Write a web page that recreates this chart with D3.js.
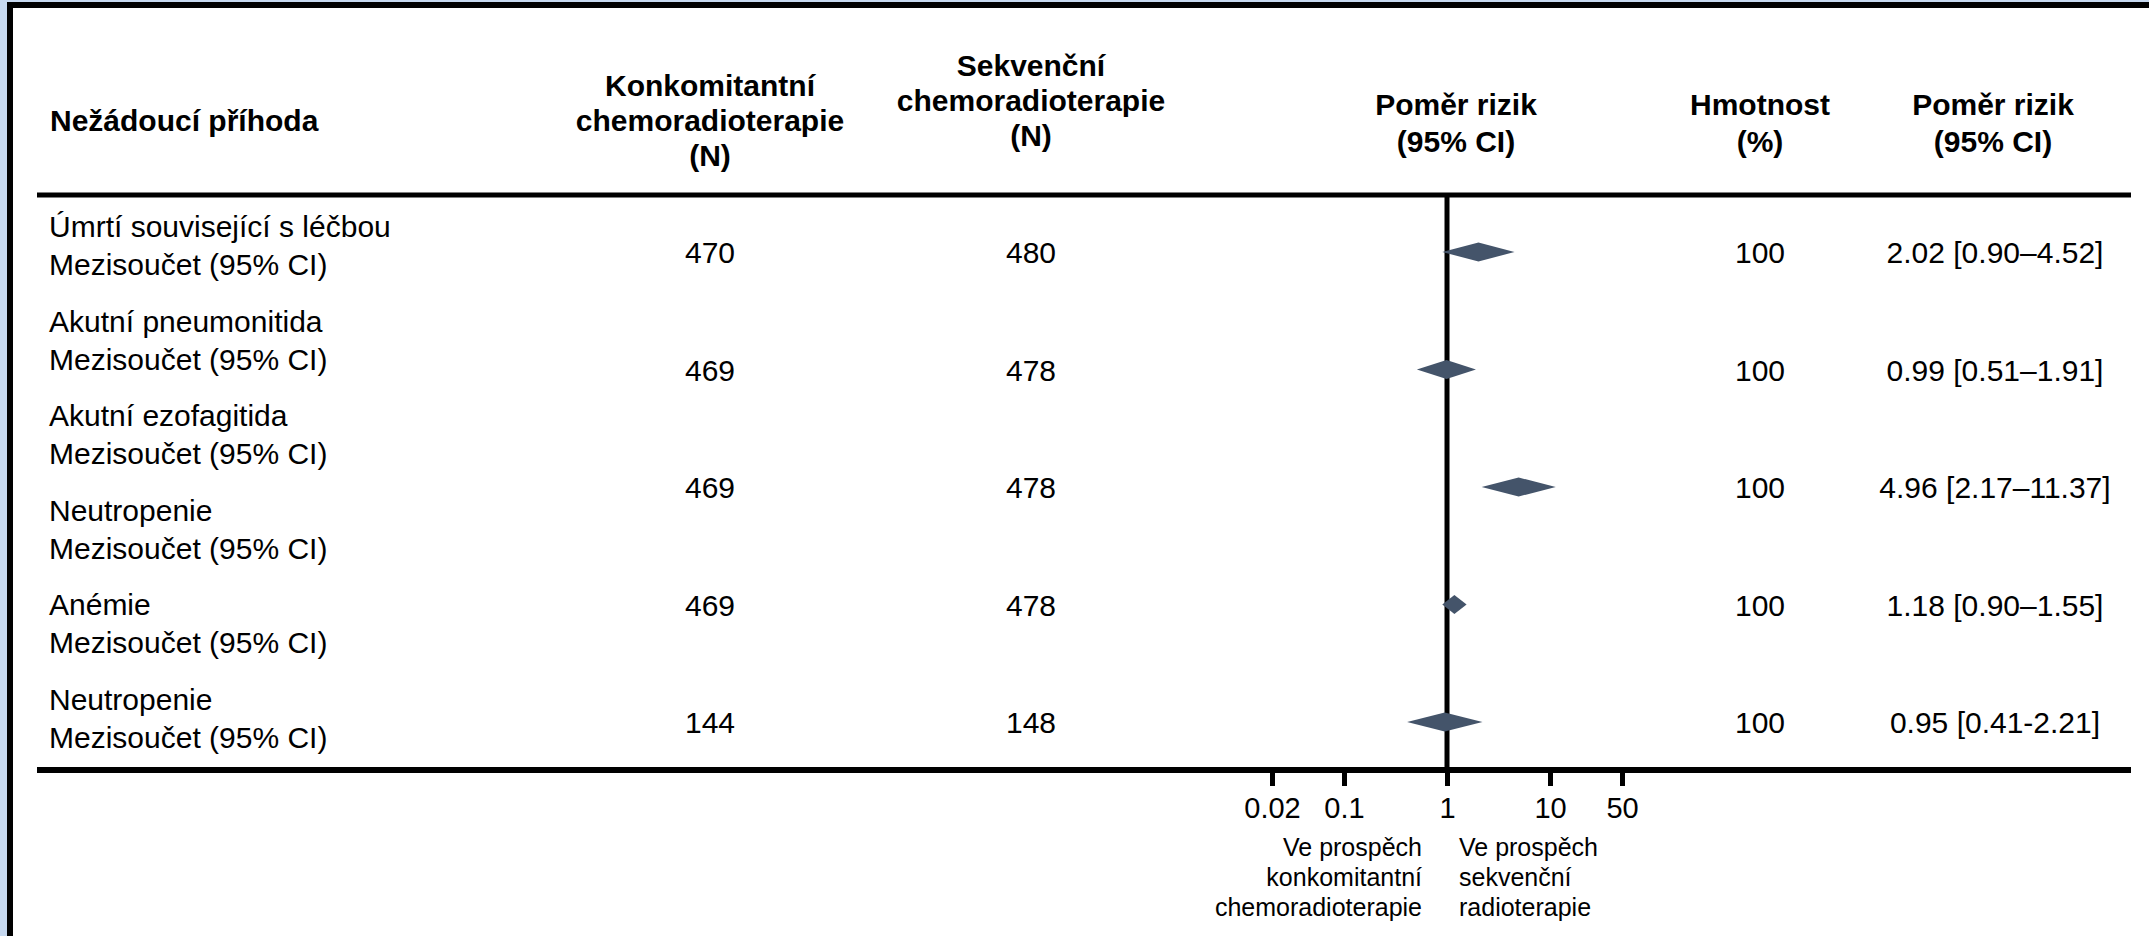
<!DOCTYPE html>
<html>
<head>
<meta charset="utf-8">
<script src="https://cdn.jsdelivr.net/npm/d3@7"></script>
<style>
  body { margin: 0; background: #fff; }
  svg { display: block; }
  text { font-family: "Liberation Sans", Arial, Helvetica, sans-serif; fill: #000; }
</style>
</head>
<body>
<svg id="chart" width="2149" height="936"></svg>
<script>
// ---- data ----
const columnTitles = [
  ["Nežádoucí příhoda"],
  ["Konkomitantní", "chemoradioterapie", "(N)"],
  ["Sekvenční", "chemoradioterapie", "(N)"],
  ["Poměr rizik", "(95% CI)"],
  ["Hmotnost", "(%)"],
  ["Poměr rizik", "(95% CI)"]
];
const eventNames = ["Úmrtí související s léčbou", "Akutní pneumonitida", "Akutní ezofagitida", "Neutropenie", "Anémie", "Neutropenie"];
const subtotalLabel = "Mezisoučet (95% CI)";

const nConcomitant = [470, 469, 469, 469, 144];
const nSequential  = [480, 478, 478, 478, 148];
const riskRatio    = [2.02, 0.99, 4.96, 1.18, 0.95];
const ciLower      = [0.90, 0.51, 2.17, 0.90, 0.41];
const ciUpper      = [4.52, 1.91, 11.37, 1.55, 2.21];
const weightPct    = [100, 100, 100, 100, 100];
const ciDash       = ["–", "–", "–", "–", "-"];

const axisTicks = [0.02, 0.1, 1, 10, 50];
const axisTickLabels = ["0.02", "0.1", "1", "10", "50"];
const favoursLeft  = ["Ve prospěch", "konkomitantní", "chemoradioterapie"];
const favoursRight = ["Ve prospěch", "sekvenční", "radioterapie"];

// ---- layout ----
const W = 2149, H = 936;
const svg = d3.select("#chart");
const fmt = d3.format(".2f");

// page frame
svg.append("rect").attr("x", 0).attr("y", 0).attr("width", W).attr("height", H).attr("fill", "#fff");
svg.append("rect").attr("x", 0).attr("y", 0).attr("width", 7).attr("height", H).attr("fill", "#c6d8ef");
svg.append("rect").attr("x", 0).attr("y", 0).attr("width", W).attr("height", 2).attr("fill", "#c6d8ef");
svg.append("rect").attr("x", 7).attr("y", 2).attr("width", 6).attr("height", H - 2).attr("fill", "#000");
svg.append("rect").attr("x", 7).attr("y", 2).attr("width", W - 7).attr("height", 6).attr("fill", "#000");

const tableLeft = 37, tableRight = 2131;
const headerRuleY = 195, axisY = 770;

const x = d3.scaleLog().domain([0.02, 50]).range([1272, 1622]);
const rowY = d3.scalePoint().domain(d3.range(riskRatio.length)).range([252, 722]);
const groupY = d3.scalePoint().domain(d3.range(eventNames.length)).range([237, 710]);

// column headers
const colX = [50, 710, 1031, 1456, 1760, 1993];
const colAnchor = ["start", "middle", "middle", "middle", "middle", "middle"];
const colTop = [131, 96, 76, 115, 115, 115];
const colLine = [35, 35, 35, 37, 37, 37];
columnTitles.forEach((lines, c) => {
  const t = svg.append("text")
    .attr("text-anchor", colAnchor[c])
    .attr("font-size", 30)
    .attr("font-weight", "bold");
  lines.forEach((s, i) => {
    t.append("tspan").attr("x", colX[c]).attr("y", colTop[c] + i * colLine[c]).text(s);
  });
});

// header rule
svg.append("line")
  .attr("x1", tableLeft).attr("x2", tableRight)
  .attr("y1", headerRuleY).attr("y2", headerRuleY)
  .attr("stroke", "#000").attr("stroke-width", 5);

// event labels, each with its subtotal line
const labels = svg.append("g").attr("font-size", 30);
eventNames.forEach((name, i) => {
  labels.append("text").attr("x", 49).attr("y", groupY(i)).text(name);
  labels.append("text").attr("x", 49).attr("y", groupY(i) + 38).text(subtotalLabel);
});

// numeric columns
const rows = svg.append("g").attr("font-size", 30).attr("text-anchor", "middle");
riskRatio.forEach((rr, i) => {
  const by = rowY(i) + 11;
  rows.append("text").attr("x", colX[1]).attr("y", by).text(nConcomitant[i]);
  rows.append("text").attr("x", colX[2]).attr("y", by).text(nSequential[i]);
  rows.append("text").attr("x", colX[4]).attr("y", by).text(weightPct[i]);
  rows.append("text").attr("x", 1995).attr("y", by)
    .text(`${fmt(rr)} [${fmt(ciLower[i])}${ciDash[i]}${fmt(ciUpper[i])}]`);
});

// line of no effect
svg.append("line")
  .attr("x1", x(1)).attr("x2", x(1))
  .attr("y1", headerRuleY).attr("y2", axisY)
  .attr("stroke", "#000").attr("stroke-width", 5);

// pooled estimates as diamonds
const halfH = 9.5;
svg.append("g").selectAll("path")
  .data(riskRatio.map((rr, i) => ({ rr, lo: ciLower[i], hi: ciUpper[i], i })))
  .join("path")
  .attr("d", d => {
    const cy = rowY(d.i);
    return `M${x(d.lo)},${cy}L${x(d.rr)},${cy - halfH}L${x(d.hi)},${cy}L${x(d.rr)},${cy + halfH}Z`;
  })
  .attr("fill", "#44546a");

// bottom rule
svg.append("line")
  .attr("x1", tableLeft).attr("x2", tableRight)
  .attr("y1", axisY).attr("y2", axisY)
  .attr("stroke", "#000").attr("stroke-width", 6);

// log axis
const axis = d3.axisBottom(x)
  .tickValues(axisTicks)
  .tickFormat((d, i) => axisTickLabels[i])
  .tickSize(16)
  .tickSizeOuter(0);
const ax = svg.append("g").attr("transform", `translate(0,${axisY})`).call(axis);
ax.select(".domain").remove();
ax.selectAll(".tick line").attr("stroke", "#000").attr("stroke-width", 5);
ax.selectAll(".tick text")
  .attr("y", 48).attr("dy", 0)
  .attr("font-size", 29)
  .attr("font-family", "Liberation Sans, Arial, sans-serif")
  .attr("fill", "#000");

// direction captions
const capLeft = svg.append("text").attr("font-size", 25).attr("text-anchor", "end");
favoursLeft.forEach((s, i) => capLeft.append("tspan").attr("x", 1422).attr("y", 856 + i * 30).text(s));
const capRight = svg.append("text").attr("font-size", 25).attr("text-anchor", "start");
favoursRight.forEach((s, i) => capRight.append("tspan").attr("x", 1459).attr("y", 856 + i * 30).text(s));
</script>
</body>
</html>
